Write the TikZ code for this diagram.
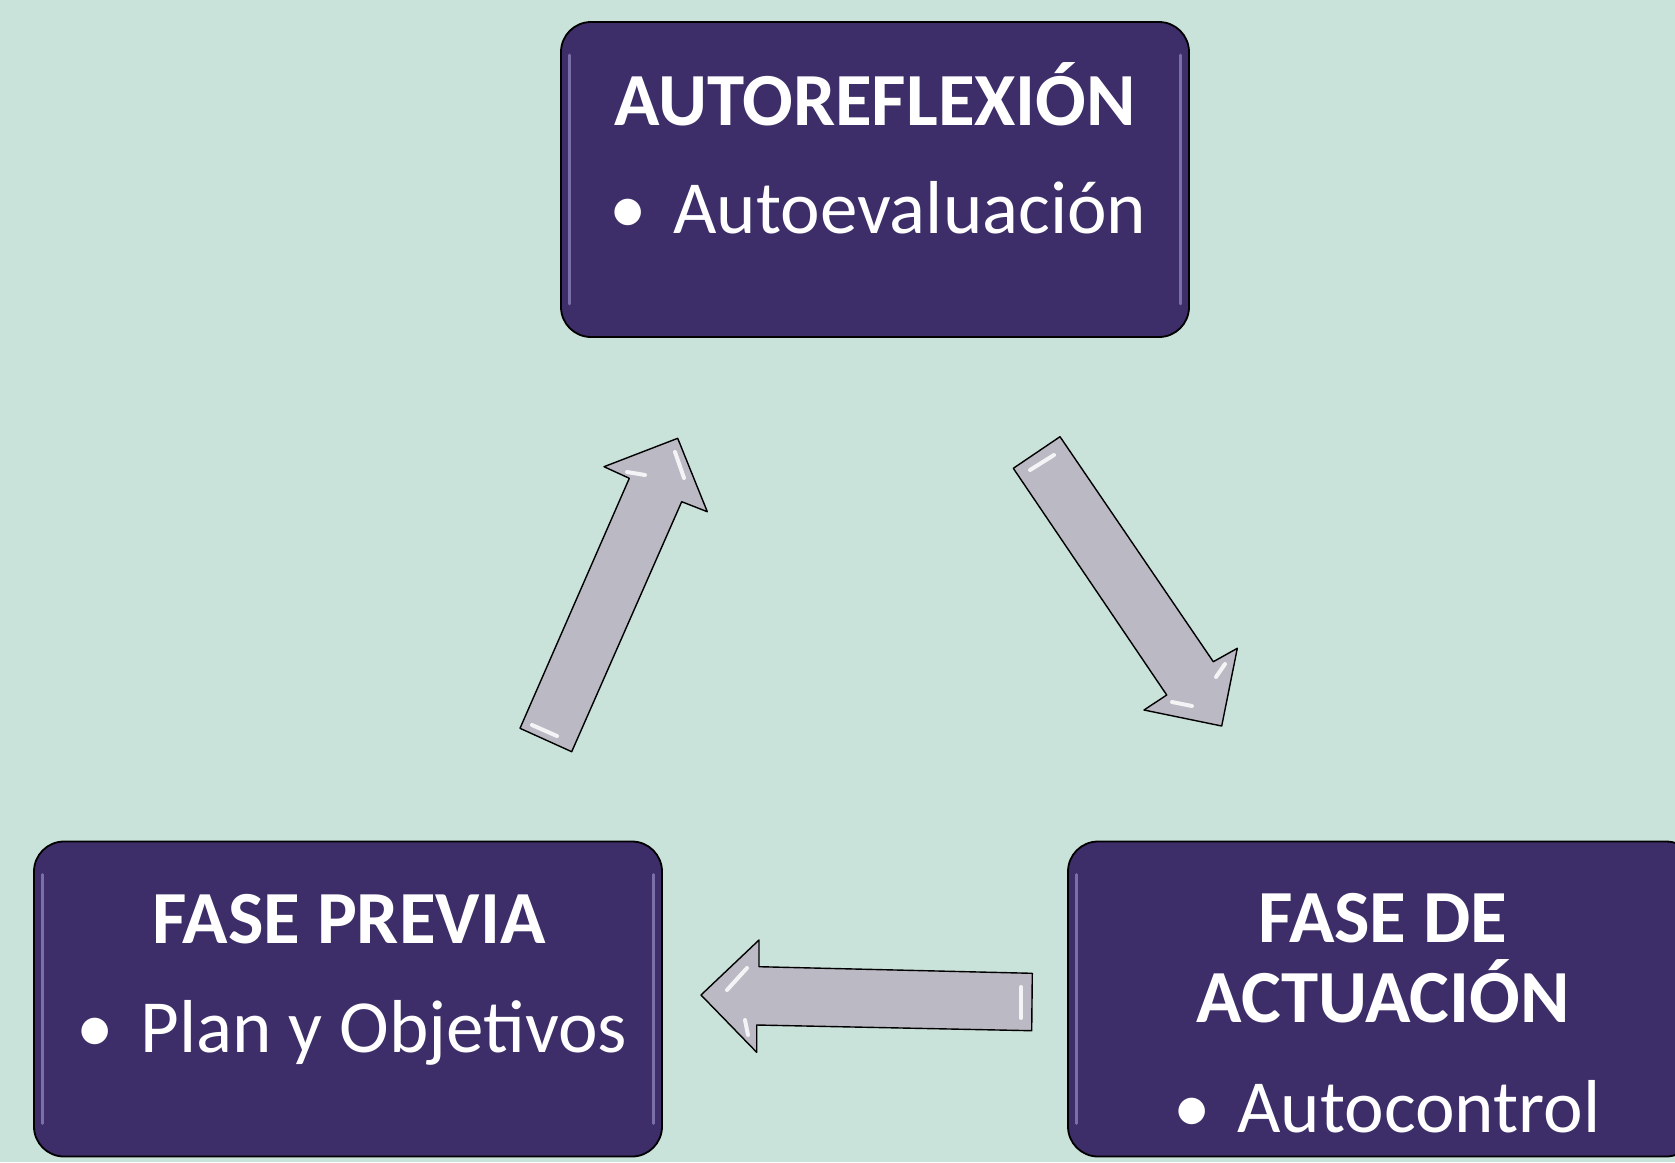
\documentclass[tikz,border=0pt]{standalone}
\usepackage{fontspec}
\setmainfont{Carlito}
\definecolor{bg}{RGB}{201,226,218}
\definecolor{boxfill}{RGB}{61,45,104}
\definecolor{boxshine}{RGB}{150,140,195}
\definecolor{arrowfill}{RGB}{186,185,196}
\begin{document}
\begin{tikzpicture}[x=1pt,y=-1pt,
  phase/.style={draw=black, line width=1.8pt, fill=boxfill, rounded corners=30pt,
    minimum width=628pt, minimum height=315pt, inner sep=0pt},
  titletext/.style={text=white, font=\fontsize{75}{88}\selectfont\bfseries, anchor=base, inner sep=0pt},
  itemtext/.style={text=white, font=\fontsize{75}{88}\selectfont, anchor=base, inner sep=0pt},
  blockarrow/.style={draw=black, line width=1.4pt, fill=arrowfill, line join=round},
  shine/.style={white, line width=4pt, line cap=round, opacity=0.85},
  boxedge/.style={boxshine, line width=3pt, line cap=round, opacity=0.7}
]
\useasboundingbox (0,0) rectangle (1675,1162);
\clip (0,0) rectangle (1675,1162);
\fill[bg] (0,0) rectangle (1675,1162);

% boxes
\node[phase] (top) at (875,179.5) {};
\node[phase] (left) at (348,999) {};
\node[phase] (right) at (1382,999) {};

% bevel highlights
\foreach \b in {top,left,right}{
  \draw[boxedge] ([xshift=9pt,yshift=-34pt]\b.north west) -- ([xshift=9pt,yshift=34pt]\b.south west);
  \draw[boxedge] ([xshift=-9pt,yshift=-34pt]\b.north east) -- ([xshift=-9pt,yshift=34pt]\b.south east);
}

% texts
\node[titletext] (t1) at (875,125) {AUTOREFLEXIÓN};
\node[itemtext] (i1) at (878,233) {•\hspace{0.35em}Autoevaluación};
\node[titletext] (t2) at (349,943) {FASE PREVIA};
\node[itemtext] (i2) at (352,1052) {•\hspace{0.35em}Plan y Objetivos};
\node[titletext] (t3a) at (1383,942) {FASE DE};
\node[titletext] (t3b) at (1383,1022) {ACTUACIÓN};
\node[itemtext] (i3) at (1387,1132) {•\hspace{0.35em}Autocontrol};

% arrow: bottom-left -> top
\draw[blockarrow] (520,728.3) -- (629.3,478.3) -- (604,466.7) -- (677.7,438.3)
  -- (707.3,511.7) -- (681.7,501.7) -- (571.7,751.7) -- cycle;
\draw[shine] (532,725) -- (557,736);
\draw[shine] (627,472) -- (645,475);
\draw[shine] (675,452) -- (684,478);
% arrow: top -> bottom-right
\draw[blockarrow] (1060,436.7) -- (1213.3,661.7) -- (1237.3,648.3) -- (1221.7,726)
  -- (1144,710) -- (1166.7,695) -- (1013.3,468.3) -- cycle;
\draw[shine] (1030,470) -- (1054,455);
\draw[shine] (1216,677) -- (1225,664);
\draw[shine] (1172,702) -- (1192,706);
% arrow: bottom-right -> bottom-left
\draw[blockarrow] (1032.3,973.3) -- (759,966.7) -- (759,940) -- (701,995)
  -- (756.7,1052.3) -- (756.7,1025) -- (1031.7,1030.7) -- cycle;
\draw[shine] (1021,987) -- (1021,1018);
\draw[shine] (747,968) -- (727,990);
\draw[shine] (745,1020) -- (748,1035);
\end{tikzpicture}
\end{document}
